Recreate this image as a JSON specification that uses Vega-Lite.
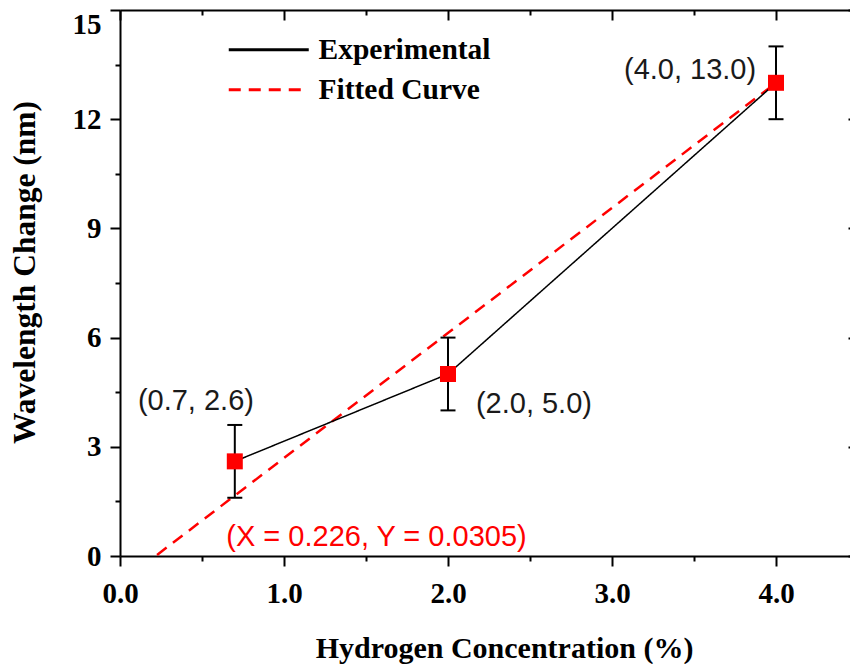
{
  "$schema": "https://vega.github.io/schema/vega-lite/v6.json",
  "width": 730,
  "height": 546,
  "autosize": {"type": "none"},
  "padding": {"left": 120, "top": 10, "right": 0, "bottom": 108},
  "background": "white",
  "config": {
    "view": {"stroke": null},
    "axis": {
      "grid": false,
      "domainColor": "black",
      "domainWidth": 2,
      "tickColor": "black",
      "tickWidth": 2,
      "labelFont": "Liberation Serif",
      "labelFontWeight": "bold",
      "labelFontSize": 29,
      "labelColor": "black",
      "titleFont": "Liberation Serif",
      "titleFontWeight": "bold",
      "titleColor": "black"
    }
  },
  "datasets": {
    "measured": [
      {"conc": 0.7, "shift": 2.6, "lo": 1.6, "hi": 3.6, "series": "Experimental"},
      {"conc": 2.0, "shift": 5.0, "lo": 4.0, "hi": 6.0, "series": "Experimental"},
      {"conc": 4.0, "shift": 13.0, "lo": 12.0, "hi": 14.0, "series": "Experimental"}
    ],
    "fit": [
      {"conc": 0.226, "shift": 0.0305, "series": "Fitted Curve"},
      {"conc": 4.0, "shift": 13.0, "series": "Fitted Curve"}
    ],
    "notes": [
      {"text": "(0.7, 2.6)", "lx": 0.463, "ly": 4.26, "kind": "point"},
      {"text": "(2.0, 5.0)", "lx": 2.524, "ly": 4.18, "kind": "point"},
      {"text": "(4.0, 13.0)", "lx": 3.476, "ly": 13.35, "kind": "point"},
      {"text": "(X = 0.226, Y = 0.0305)", "lx": 1.564, "ly": 0.52, "kind": "fit"}
    ]
  },
  "resolve": {"axis": {"x": "independent", "y": "independent"}},
  "layer": [
    {
      "data": {"name": "fit"},
      "mark": {"type": "line", "strokeWidth": 2.5},
      "encoding": {
        "x": {
          "field": "conc",
          "type": "quantitative",
          "scale": {"domain": [0, 4.4512], "nice": false},
          "axis": {
            "orient": "bottom",
            "title": "Hydrogen Concentration (%)",
            "titleFontSize": 30,
            "titleX": 384,
            "titleY": 101,
            "titleBaseline": "alphabetic",
            "titleAlign": "center",
            "values": [0, 0.5, 1, 1.5, 2, 2.5, 3, 3.5, 4],
            "tickSize": {"condition": {"test": "datum.value % 1 === 0", "value": 10}, "value": 5},
            "labelExpr": "datum.value % 1 === 0 ? format(datum.value, '.1f') : ''",
            "labelFlush": false,
            "labelPadding": 13
          }
        },
        "y": {
          "field": "shift",
          "type": "quantitative",
          "scale": {"domain": [0, 15], "nice": false},
          "axis": {
            "orient": "left",
            "title": "Wavelength Change (nm)",
            "titleFontSize": 31.5,
            "titleAngle": 270,
            "titleX": -86,
            "titleY": 262,
            "titleBaseline": "alphabetic",
            "titleAlign": "center",
            "values": [0, 1.5, 3, 4.5, 6, 7.5, 9, 10.5, 12, 13.5, 15],
            "tickSize": {"condition": {"test": "datum.value % 3 === 0", "value": 10}, "value": 5},
            "labelExpr": "datum.value % 3 === 0 ? format(datum.value, 'd') : ''",
            "labelBaseline": {"condition": {"test": "datum.value === 15", "value": "top"}, "value": "middle"},
            "labelPadding": 9
          }
        },
        "color": {
          "field": "series",
          "type": "nominal",
          "scale": {"domain": ["Experimental", "Fitted Curve"], "range": ["black", "#ff0000"]},
          "legend": {
            "orient": "none",
            "legendX": 134,
            "legendY": 25,
            "title": null,
            "padding": 0,
            "symbolType": "M-4,0H4",
            "symbolSize": 400,
            "symbolStrokeWidth": 3,
            "labelFont": "Liberation Serif",
            "labelFontWeight": "bold",
            "labelFontSize": 29.5,
            "labelColor": "black",
            "labelOffset": 35,
            "labelLimit": 400,
            "rowPadding": 9
          }
        },
        "strokeDash": {
          "field": "series",
          "type": "nominal",
          "scale": {"domain": ["Experimental", "Fitted Curve"], "range": [[1, 0], [12, 8]]},
          "legend": {
            "orient": "none",
            "legendX": 134,
            "legendY": 25,
            "title": null,
            "padding": 0,
            "symbolType": "M-4,0H4",
            "symbolSize": 400,
            "symbolStrokeWidth": 3,
            "labelFont": "Liberation Serif",
            "labelFontWeight": "bold",
            "labelFontSize": 29.5,
            "labelColor": "black",
            "labelOffset": 35,
            "labelLimit": 400,
            "rowPadding": 9
          }
        }
      }
    },
    {
      "data": {"name": "measured"},
      "mark": {"type": "line", "strokeWidth": 1.5},
      "encoding": {
        "x": {
          "field": "conc",
          "type": "quantitative",
          "axis": {
            "orient": "top",
            "title": null,
            "labels": false,
            "values": [0, 0.5, 1, 1.5, 2, 2.5, 3, 3.5, 4],
            "tickSize": {"condition": {"test": "datum.value % 1 === 0", "value": -10}, "value": -5}
          }
        },
        "y": {
          "field": "shift",
          "type": "quantitative",
          "axis": {
            "orient": "right",
            "title": null,
            "labels": false,
            "offset": 8,
            "values": [0, 1.5, 3, 4.5, 6, 7.5, 9, 10.5, 12, 13.5, 15],
            "tickSize": {"condition": {"test": "datum.value % 3 === 0", "value": -10}, "value": -5}
          }
        },
        "color": {"field": "series", "type": "nominal"},
        "strokeDash": {"field": "series", "type": "nominal"}
      }
    },
    {
      "data": {"name": "measured"},
      "mark": {"type": "rule", "strokeWidth": 2, "color": "black"},
      "encoding": {
        "x": {"field": "conc", "type": "quantitative", "axis": null},
        "y": {"field": "lo", "type": "quantitative", "axis": null},
        "y2": {"field": "hi"}
      }
    },
    {
      "data": {"name": "measured"},
      "mark": {"type": "tick", "orient": "horizontal", "size": 15, "thickness": 2, "color": "black", "opacity": 1},
      "encoding": {
        "x": {"field": "conc", "type": "quantitative", "axis": null},
        "y": {"field": "lo", "type": "quantitative", "axis": null}
      }
    },
    {
      "data": {"name": "measured"},
      "mark": {"type": "tick", "orient": "horizontal", "size": 15, "thickness": 2, "color": "black", "opacity": 1},
      "encoding": {
        "x": {"field": "conc", "type": "quantitative", "axis": null},
        "y": {"field": "hi", "type": "quantitative", "axis": null}
      }
    },
    {
      "data": {"name": "measured"},
      "mark": {"type": "square", "size": 256, "color": "#ff0000", "opacity": 1, "filled": true},
      "encoding": {
        "x": {"field": "conc", "type": "quantitative", "axis": null},
        "y": {"field": "shift", "type": "quantitative", "axis": null}
      }
    },
    {
      "data": {"name": "notes"},
      "mark": {"type": "text", "font": "Liberation Sans", "fontSize": 29, "align": "center", "baseline": "middle"},
      "encoding": {
        "x": {"field": "lx", "type": "quantitative", "axis": null},
        "y": {"field": "ly", "type": "quantitative", "axis": null},
        "text": {"field": "text"},
        "color": {"condition": {"test": "datum.kind === 'fit'", "value": "#ff0000"}, "value": "#1a1a1a"}
      }
    }
  ]
}
